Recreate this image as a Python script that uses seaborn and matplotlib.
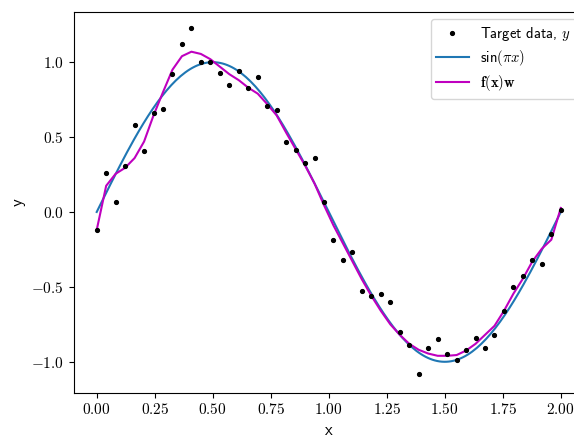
import numpy as np
import pandas as pd
import matplotlib
matplotlib.use("Agg")
import matplotlib.pyplot as plt
import seaborn as sns

# Target data (50 equally spaced samples on [0, 2])
x_data = np.linspace(0, 2, 50)
y_data = [-0.12, 0.26, 0.064, 0.31, 0.58, 0.41, 0.66, 0.69, 0.92, 1.12,
          1.23, 1.00, 1.00, 0.93, 0.85, 0.94, 0.83, 0.90, 0.71, 0.68,
          0.47, 0.415, 0.33, 0.36, 0.07, -0.19, -0.32, -0.265, -0.53, -0.56,
          -0.55, -0.60, -0.80, -0.89, -1.08, -0.91, -0.845, -0.945, -0.99, -0.92,
          -0.84, -0.91, -0.82, -0.66, -0.50, -0.43, -0.32, -0.35, -0.15, 0.015]

# Model fit f(x)w evaluated at the same x
fit = [-0.12, 0.175, 0.255, 0.295, 0.36, 0.47, 0.645, 0.80, 0.95, 1.04,
       1.07, 1.055, 1.02, 0.97, 0.92, 0.88, 0.83, 0.79, 0.72, 0.645,
       0.53, 0.42, 0.31, 0.19, 0.045, -0.09, -0.21, -0.33, -0.45, -0.56,
       -0.66, -0.75, -0.82, -0.88, -0.92, -0.945, -0.96, -0.96, -0.955, -0.925,
       -0.88, -0.82, -0.76, -0.66, -0.545, -0.445, -0.33, -0.245, -0.185, 0.027]

# True function sin(pi x)
x_true = np.linspace(0, 2, 200)
y_true = np.sin(np.pi * x_true)

xticks = [0.0, 0.25, 0.5, 0.75, 1.0, 1.25, 1.5, 1.75, 2.0]
xticklabels = ["0.00", "0.25", "0.50", "0.75", "1.00", "1.25", "1.50", "1.75", "2.00"]
yticks = [-1.0, -0.5, 0.0, 0.5, 1.0]
yticklabels = ["-1.0", "-0.5", "0.0", "0.5", "1.0"]

plt.rcParams["mathtext.fontset"] = "cm"
plt.rcParams["font.family"] = ["cmss10", "DejaVu Sans"]
plt.rcParams["axes.unicode_minus"] = False

fig = plt.figure(figsize=(5.74, 4.40), dpi=100)
ax = fig.add_axes([73.5 / 574, 1 - 392.5 / 440, (584 - 73.5) / 574, (392.5 - 12) / 440])

df_data = pd.DataFrame({"x": x_data, "y": y_data})
df_true = pd.DataFrame({"x": x_true, "y": y_true})
df_fit = pd.DataFrame({"x": x_data, "y": fit})

ax.plot(df_data["x"], df_data["y"], "k.", markersize=5.5, label=r"Target data, $y$", zorder=3)
sns.lineplot(data=df_true, x="x", y="y", ax=ax, color="#1f77b4", linewidth=1.5,
             label=r"$\mathsf{sin}(\pi x)$", sort=False)
sns.lineplot(data=df_fit, x="x", y="y", ax=ax, color="m", linewidth=1.5,
             label=r"$\mathbf{f}(\mathbf{x})\mathbf{w}$", sort=False)

ax.set_xticks(xticks)
ax.set_xticklabels([r"$%s$" % t for t in xticklabels], fontsize=11)
ax.set_yticks(yticks)
ax.set_yticklabels([r"$%s$" % t for t in yticklabels], fontsize=11)
ax.set_xlabel("x", fontsize=12)
ax.set_ylabel("y", fontsize=12)
ax.set_xlim(-0.1, 2.1)
ax.set_ylim(-1.205, 1.335)
ax.legend(loc="upper right", fontsize=10.5, handlelength=2.2, labelspacing=0.35)

fig.savefig("out.png", dpi=100)
